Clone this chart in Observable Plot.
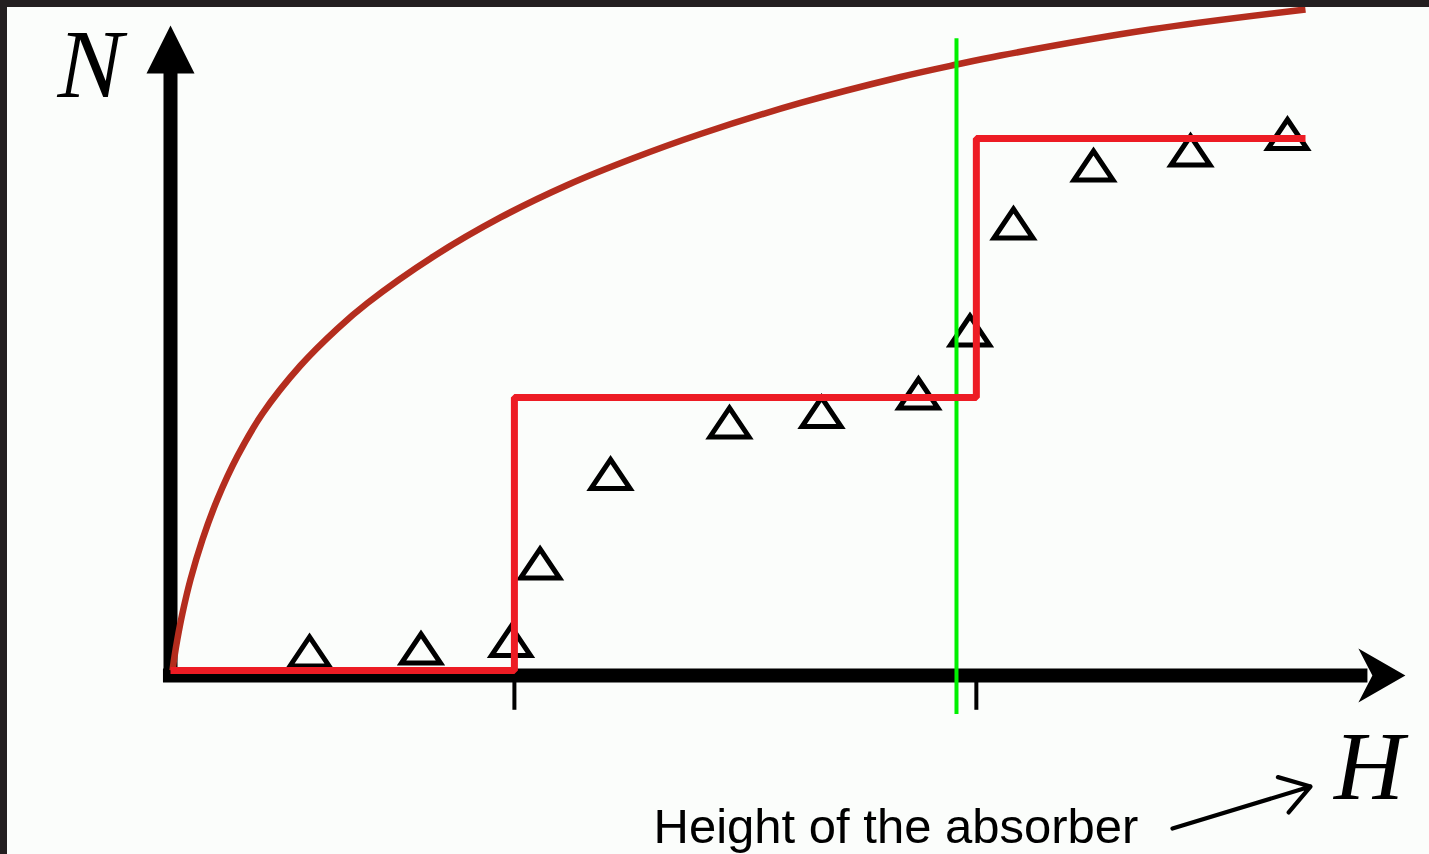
<!DOCTYPE html>
<html>
<head>
<meta charset="utf-8">
<script src="https://cdn.jsdelivr.net/npm/d3@7"></script>
<script src="https://cdn.jsdelivr.net/npm/@observablehq/plot@0.6"></script>
<style>
  html, body { margin: 0; padding: 0; background: #fbfdfb; }
  #wrap { position: relative; width: 1429px; height: 854px; overflow: hidden; background: #fbfdfb; }
  #frame { position: absolute; left: 0; top: 0; width: 1429px; height: 854px; box-sizing: border-box;
           border-top: 7px solid #231f20; border-left: 7px solid #231f20; pointer-events: none; }
  svg { display: block; }
</style>
</head>
<body>
<div id="wrap"><div id="chart"></div><div id="frame"></div></div>
<script>
// Theoretical count N(H): smooth rising curve
const curveH = [0.0176, 0.0352, 0.0617, 0.1057, 0.1762, 0.2819, 0.4141, 0.5903, 0.8106, 1.1454, 1.4714, 1.7357,
                2.3172, 2.9075, 3.4978, 4.0705, 4.6696, 5.5507, 6.4317, 6.9251, 7.3128, 8.6344, 10.0];
const curveN = [0.000, 0.211, 0.483, 0.867, 1.373, 1.976, 2.587, 3.235, 3.876, 4.600, 5.158, 5.543,
                6.244, 6.833, 7.323, 7.722, 8.092, 8.560, 8.952, 9.140, 9.276, 9.668, 9.970];

// Measured counts (triangles)
const measH = [1.225, 2.207, 3.000, 3.256, 3.877, 4.925, 5.736, 6.590, 7.044, 7.427, 8.132, 8.987, 9.841];
const measN = [0.287, 0.332, 0.445, 1.614, 2.964, 3.741, 3.899, 4.178, 5.128, 6.742, 7.617, 7.843, 8.092];

// Idealised staircase: level changes at the step edges
const stepH = [0, 3.03, 7.10, 10];
const stepN = [0, 4.118, 8.024, 8.024];
const stepEdges = [3.03, 7.10];

// Height of the absorber (vertical marker)
const absorberH = 6.925;

// Axis extents and annotation positions (data units)
const axisH = {from: -0.062, to: 10.55, tip: 10.88, level: -0.075};
const axisN = {from: -0.18, to: 9.3, tip: 9.73, level: 0};
const tickN = [-0.18, -0.60];
const absorberSpan = [-0.664, 9.53];
const labelN = {x: -0.996, y: 8.643, text: "N"};
const labelH = {x: 10.25, y: -1.931, text: "H"};
const caption = {x: 4.256, y: -2.609, text: "Height of the absorber"};
const pointer = {x1: 8.828, y1: -2.383, x2: 10.044, y2: -1.750};

const curve = curveH.map((h, i) => ({H: h, N: curveN[i]}));
const measured = measH.map((h, i) => ({H: h, N: measN[i]}));
const steps = stepH.map((h, i) => ({H: h, N: stepN[i]}));

// Custom symbols
const triangleSymbol = {draw(ctx) { ctx.moveTo(0, -14.5); ctx.lineTo(19.5, 14.5); ctx.lineTo(-19.5, 14.5); ctx.closePath(); }};
const arrowUp = {draw(ctx) { ctx.moveTo(0, 0); ctx.lineTo(24, 48); ctx.lineTo(-24, 48); ctx.closePath(); }};
const arrowRight = {draw(ctx) { ctx.moveTo(0, 0); ctx.lineTo(-47, -27); ctx.lineTo(-33, 0); ctx.lineTo(-47, 27); ctx.closePath(); }};

const chart = Plot.plot({
  width: 1429,
  height: 854,
  marginLeft: 170,
  marginRight: 124,
  marginTop: 7,
  marginBottom: 184,
  x: {domain: [0, 10], axis: null},
  y: {domain: [0, 10], axis: null},
  style: {background: "transparent", overflow: "visible"},
  marks: [
    // axes
    Plot.ruleX([0], {y1: axisN.from, y2: axisN.to, stroke: "black", strokeWidth: 14}),
    Plot.ruleY([axisH.level], {x1: axisH.from, x2: axisH.to, stroke: "black", strokeWidth: 14}),
    Plot.dot([{H: 0, N: axisN.tip}], {x: "H", y: "N", symbol: arrowUp, fill: "black", stroke: "none"}),
    Plot.dot([{H: axisH.tip, N: axisH.level}], {x: "H", y: "N", symbol: arrowRight, fill: "black", stroke: "none"}),
    Plot.ruleX(stepEdges, {y1: tickN[0], y2: tickN[1], stroke: "black", strokeWidth: 4}),
    // theoretical curve
    Plot.line(curve, {x: "H", y: "N", curve: "catmull-rom", stroke: "#b42d1e", strokeWidth: 6.5, strokeLinecap: "butt"}),
    // measurements
    Plot.dot(measured, {x: "H", y: "N", symbol: triangleSymbol, fill: "none", stroke: "black", strokeWidth: 5, strokeLinejoin: "miter"}),
    // absorber height
    Plot.ruleX([absorberH], {y1: absorberSpan[0], y2: absorberSpan[1], stroke: "#00f000", strokeWidth: 4}),
    // staircase
    Plot.line(steps, {x: "H", y: "N", curve: "step-after", stroke: "#ed1c24", strokeWidth: 7, strokeLinejoin: "miter", strokeLinecap: "butt"}),
    // labels
    Plot.text([labelN], {x: "x", y: "y", text: "text", textAnchor: "start", lineAnchor: "bottom",
      fontSize: 98, fontStyle: "italic", fontFamily: "Liberation Serif", fill: "black"}),
    Plot.text([labelH], {x: "x", y: "y", text: "text", textAnchor: "start", lineAnchor: "bottom",
      fontSize: 97, fontStyle: "italic", fontFamily: "Liberation Serif", fill: "black"}),
    Plot.text([caption], {x: "x", y: "y", text: "text", textAnchor: "start", lineAnchor: "bottom",
      fontSize: 49, fontFamily: "Liberation Sans", fill: "black"}),
    Plot.arrow([pointer], {x1: "x1", y1: "y1", x2: "x2", y2: "y2", stroke: "black", strokeWidth: 4.2,
      headLength: 12.1, headAngle: 66})
  ]
});
document.getElementById("chart").appendChild(chart);
</script>
</body>
</html>
